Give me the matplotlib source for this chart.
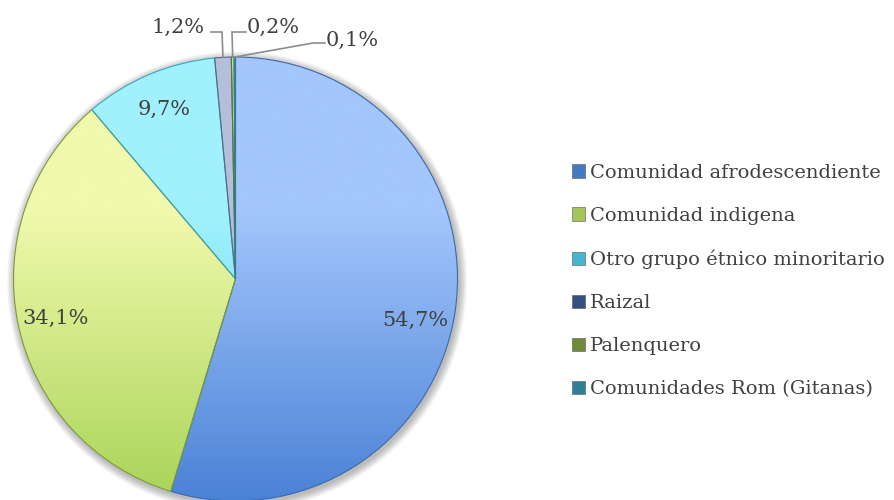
import numpy as np
import matplotlib
matplotlib.use("Agg")
from matplotlib import pyplot as plt
from matplotlib.colors import LinearSegmentedColormap
from matplotlib.patches import Patch, Circle

# datos del grafico
grupos = ["Comunidad afrodescendiente", "Comunidad indigena",
          "Otro grupo étnico minoritario", "Raizal", "Palenquero",
          "Comunidades Rom (Gitanas)"]
porcentajes = [54.7, 34.1, 9.7, 1.2, 0.2, 0.1]

# colores degradados (arriba, abajo) y color de leyenda
degradado = [("#a3c6fc", "#4a82d6"),
             ("#f0f9ac", "#a9d458"),
             ("#a0f1fd", "#5cd3e8"),
             ("#b4c0da", "#8f9fc4"),
             ("#c8dc9c", "#9ab85e"),
             ("#9fd8e6", "#5fb3c9")]
bordes = ["#3a68a8", "#7c9a38", "#3aa3b8", "#56668c", "#5d7530", "#2b7f94"]
leyenda_col = ["#4479c4", "#a4c55c", "#45b5d0", "#34507e", "#6e8c3a", "#2f7f95"]

plt.rcParams['font.family'] = ['DejaVu Serif']
texto_col = "#404040"

fig = plt.figure(figsize=(8.95, 5.0), dpi=100)
ax = fig.add_axes([0, 0, 1, 1])

cx, cy, r = 235.5, 221.0, 222.0

# sombra suave
for i in range(8):
    ax.add_patch(Circle((cx + 1.5, cy - 2.5), r + 1 + i * 1.0, facecolor="#000000",
                        edgecolor="none", alpha=0.035, zorder=0.2))
ax.add_patch(Circle((cx, cy), r, facecolor="white", edgecolor="none", zorder=0.3))

wedges, _ = ax.pie(porcentajes, startangle=90, counterclock=False, center=(cx, cy),
                   radius=r, wedgeprops=dict(linewidth=0.8))

grad = np.linspace(0, 1, 256).reshape(-1, 1)
for w, (c1, c2), ce in zip(wedges, degradado, bordes):
    cmap = LinearSegmentedColormap.from_list("g", [(0, c1), (0.35, c1), (1, c2)])
    im = ax.imshow(grad, cmap=cmap, extent=(cx - r, cx + r, cy - r, cy + r),
                   origin="upper", aspect="auto", zorder=1, interpolation="bilinear")
    im.set_clip_path(w)
    w.set_facecolor("none")
    w.set_edgecolor(ce)
    w.set_zorder(2)

# angulos medios de cada porcion
acum = np.cumsum([0] + porcentajes)
medios = 90 - (acum[:-1] + acum[1:]) / 2 / 100 * 360


def fmt(v):
    return f"{v:.1f}".replace(".", ",") + "%"


# etiquetas dentro de las porciones grandes (ajuste de angulo tipo "mejor ajuste")
ajuste = [-4.5, 0.8, 0.0]
for v, a, d in zip(porcentajes[:3], medios[:3], ajuste):
    t = np.deg2rad(a + d)
    ax.text(cx + 0.83 * r * np.cos(t), cy + 0.83 * r * np.sin(t), fmt(v),
            ha="center", va="center", fontsize=15, color=texto_col, zorder=5)

# etiquetas con lineas guia para las porciones pequenas
guias = [((222, 468), (211, 468), (178, 473)),
         ((232, 468), (246, 468), (273, 473)),
         ((313, 457), (325, 457), (352, 460))]
for v, a, (codo, fin, pos) in zip(porcentajes[3:], medios[3:], guias):
    t = np.deg2rad(a)
    px, py = cx + r * np.cos(t), cy + r * np.sin(t)
    ax.plot([px, codo[0], fin[0]], [py, codo[1], fin[1]], color="#8c8c8c",
            lw=1.2, zorder=4, solid_joinstyle="miter")
    ax.text(pos[0], pos[1], fmt(v), ha="center", va="center", fontsize=15,
            color=texto_col, zorder=5)

ax.set_xlim(0, 895)
ax.set_ylim(0, 500)
ax.set_aspect("auto")
ax.axis("off")

manejadores = [Patch(facecolor=c, edgecolor="#555555", linewidth=0.4) for c in leyenda_col]
ax.legend(manejadores, grupos, loc="center left", bbox_to_anchor=(562 / 895, 1 - 281 / 500),
          frameon=False, fontsize=14, handlelength=0.7, handleheight=0.7,
          handletextpad=0.25, labelspacing=1.29, labelcolor=texto_col, borderpad=0)

fig.savefig("out.png", dpi=100)
